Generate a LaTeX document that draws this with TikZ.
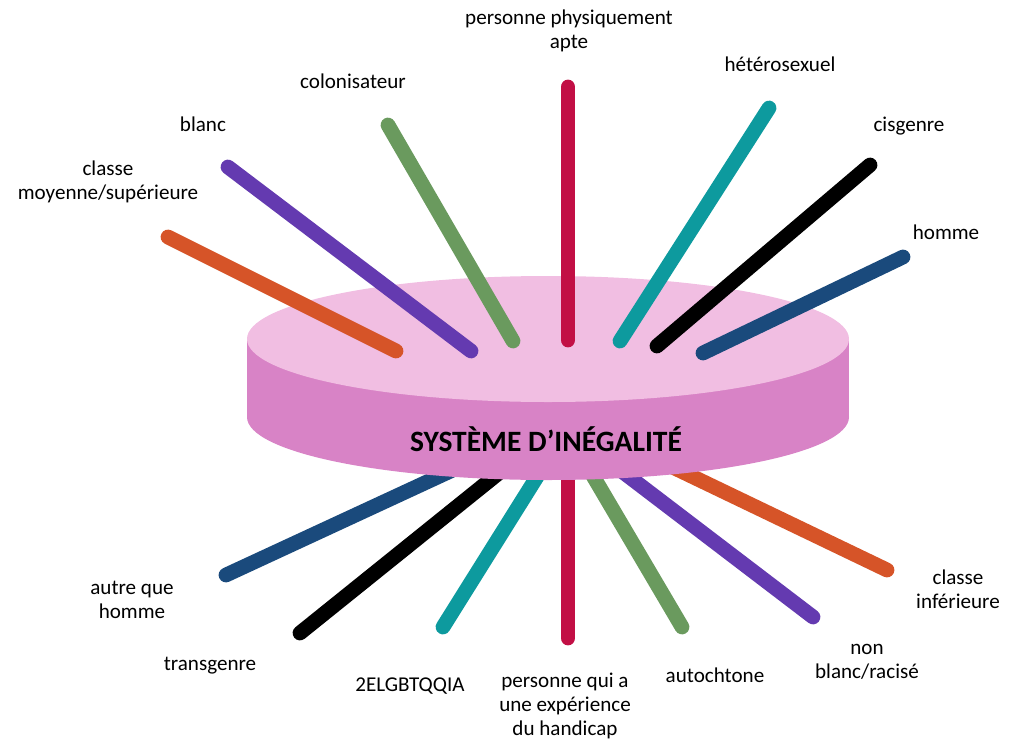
\documentclass[tikz,border=0pt]{standalone}
\usepackage{fontspec}
\setmainfont{Carlito}
\usepackage{xcolor}
\usepackage{tikz}

\definecolor{disctop}{HTML}{F1BEE2}
\definecolor{discside}{HTML}{D883C6}
\definecolor{rayorange}{HTML}{D65428}
\definecolor{raypurple}{HTML}{643AB0}
\definecolor{raygreen}{HTML}{6A9A5E}
\definecolor{raycrimson}{HTML}{C20F45}
\definecolor{rayteal}{HTML}{0D9A9E}
\definecolor{raynavy}{HTML}{1A4A7C}

\tikzset{
  ray/.style={line width=10.5pt, line cap=round},
  lbl/.style={align=center, font=\fontsize{15}{17}\selectfont, inner sep=0pt}
}

\begin{document}
\begin{tikzpicture}[x=0.025cm, y=-0.025cm]
        \useasboundingbox (0,0) rectangle (1011,742);

        % Draw the lower rays (behind the disc)
        \draw[ray, raynavy] (226,575) -- (470,462);
        \draw[ray, black] (300,633) -- (510,464);
        \draw[ray, rayteal] (443,627) -- (545,464);
        \draw[ray, raycrimson] (568,638) -- (568,460);
        \draw[ray, raygreen] (682,627) -- (586,464);
        \draw[ray, raypurple] (813,617) -- (615,466);
        \draw[ray, rayorange] (887,570) -- (660,461);

        % Draw the disc
        \fill[discside] (548,417) ellipse (301 and 63);
        \fill[discside] (247,339) rectangle (849,417);
        \fill[disctop] (548,339) ellipse (301 and 63);
        \node[font=\fontsize{21}{24}\selectfont\bfseries, inner sep=0pt] (titre) at (546,439) {SYSTÈME D’INÉGALITÉ};

        % Draw the upper rays (on top of the disc)
        \draw[ray, rayorange] (168,237) -- (396,351);
        \draw[ray, raypurple] (228,167) -- (471,351);
        \draw[ray, raygreen] (388,125) -- (513,341);
        \draw[ray, raycrimson] (568,87) -- (568,340);
        \draw[ray, rayteal] (769,108) -- (620,341);
        \draw[ray, black] (870,165) -- (657,346);
        \draw[ray, raynavy] (903,257) -- (703,353);

        % Labels of the upper rays
        \node[lbl] (apte) at (569,31) {personne physiquement\\apte};
        \node[lbl] (hetero) at (780,64) {hétérosexuel};
        \node[lbl] (cis) at (909,126) {cisgenre};
        \node[lbl] (homme) at (946,232) {homme};
        \node[lbl] (colon) at (353,81) {colonisateur};
        \node[lbl] (blanc) at (203,124) {blanc};
        \node[lbl] (classehaut) at (108,182) {classe\\moyenne/supérieure};

        % Labels of the lower rays
        \node[lbl] (autre) at (132,600) {autre que\\homme};
        \node[lbl] (trans) at (210,666) {transgenre};
        \node[lbl] (lgbt) at (410,686) {2ELGBTQQIA};
        \node[lbl] (handicap) at (565,706) {personne qui a\\une expérience\\du handicap};
        \node[lbl] (autoch) at (715,675) {autochtone};
        \node[lbl] (racise) at (867,662) {non\\blanc/racisé};
        \node[lbl] (classebas) at (958,589) {classe\\inférieure};
\end{tikzpicture}
\end{document}
